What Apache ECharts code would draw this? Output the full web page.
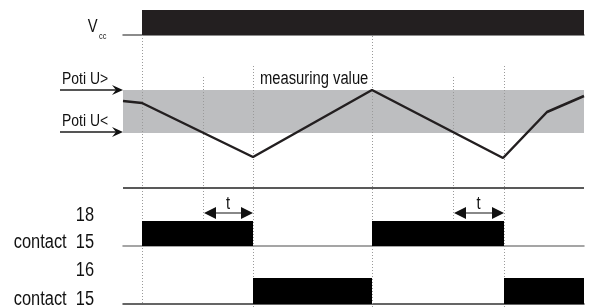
<!DOCTYPE html>
<html>
<head>
<meta charset="utf-8">
<script src="https://cdn.jsdelivr.net/npm/echarts@6/dist/echarts.min.js"></script>
<style>
html,body{margin:0;padding:0;background:#fff;}
#chart{width:589px;height:308px;}
</style>
</head>
<body>
<div id="chart"></div>
<script>
// ---- data (time units along the shared time axis) ----
const timeMax = 461;
const vccOn = [[19, 461]];
const analogTime = [0, 19, 130, 249, 380, 424, 461];
const analogValue = [59, 57, 3, 70, 2, 48, 64];
const potiLevels = [27, 70];              // U< , U>
const potiLabels = ['Poti U<', 'Poti U>'];
const contact18On = [[19, 130], [249, 381]];
const contact16On = [[130, 249], [381, 461]];
const guideTimes = [19, 80, 130, 249, 330, 381];
const delayWindows = [[80, 130], [330, 381]];
const rowLabels = ['18', 'contact  15', '16', 'contact  15'];

// ---- layout / styles ----
const FONT = "'Liberation Sans',Arial,sans-serif";
const NARROW = 0.82;
const L = 123, W = 461;
// vertical extents of guides in overlay pixel-rows (top, bottom)
const guideExtents = [[35, 304], [77, 219], [66, 308], [30, 308], [77, 219], [66, 308]];

const chart = echarts.init(document.getElementById('chart'), null, {renderer: 'canvas'});

function rectSeries(gridIdx, data, color) {
  return {
    type: 'custom', xAxisIndex: gridIdx, yAxisIndex: gridIdx, silent: true,
    data: data, encode: {x: [0, 1]},
    renderItem: function (params, api) {
      const s = api.coord([api.value(0), 1]);
      const e = api.coord([api.value(1), 0]);
      return {type: 'rect', shape: {x: s[0], y: s[1], width: e[0] - s[0], height: e[1] - s[1]},
        style: {fill: color}};
    }
  };
}

const grids = [
  {left: L, width: W, top: 10, height: 25},   // Vcc
  {left: L, width: W, top: 60, height: 100},  // analog
  {left: L, width: W, top: 221, height: 25},  // contact 18
  {left: L, width: W, top: 278, height: 26},  // contact 16
  {left: L, width: W, top: 0, height: 308}    // overlay guides
];
const baseAxisColors = ['#666', null, '#888', '#333', null];

const option = {
  animation: false,
  backgroundColor: '#fff',
  grid: grids,
  xAxis: grids.map((g, i) => ({
    gridIndex: i, type: 'value', min: 0, max: timeMax,
    axisLine: {show: !!baseAxisColors[i], onZero: false, lineStyle: {color: baseAxisColors[i] || '#000', width: 1.5}},
    axisTick: {show: false}, axisLabel: {show: false}, splitLine: {show: false}
  })),
  yAxis: grids.map((g, i) => ({
    gridIndex: i, type: 'value',
    min: 0,
    max: i === 1 ? 100 : (i === 4 ? 308 : 1),
    inverse: i === 4,
    show: false
  })),
  series: [
    // guides (dotted)
    {
      type: 'custom', xAxisIndex: 4, yAxisIndex: 4, silent: true, z: 1,
      data: guideTimes.map((t, i) => [t, guideExtents[i][0], guideExtents[i][1]]),
      encode: {x: 0, y: [1, 2]},
      renderItem: function (params, api) {
        const a = api.coord([api.value(0), api.value(1)]);
        const b = api.coord([api.value(0), api.value(2)]);
        return {type: 'line', shape: {x1: Math.round(a[0]) + 0.5, y1: a[1], x2: Math.round(b[0]) + 0.5, y2: b[1]},
          style: {stroke: '#9a9a9a', lineWidth: 1, lineDash: [1, 2]}};
      }
    },
    // separator line
    {
      type: 'custom', xAxisIndex: 4, yAxisIndex: 4, silent: true, z: 3,
      data: [[0, timeMax, 188]], encode: {x: [0, 1], y: 2},
      renderItem: function (params, api) {
        const a = api.coord([api.value(0), api.value(2)]);
        const b = api.coord([api.value(1), api.value(2)]);
        return {type: 'line', shape: {x1: a[0], y1: a[1], x2: b[0], y2: b[1]},
          style: {stroke: '#222', lineWidth: 1.5}};
      }
    },
    Object.assign(rectSeries(0, vccOn, '#231f20'), {z: 4}),
    {
      type: 'line', xAxisIndex: 1, yAxisIndex: 1, silent: true, z: 5,
      data: analogTime.map((t, i) => [t, analogValue[i]]),
      showSymbol: false, symbol: 'none',
      lineStyle: {color: '#231f20', width: 2.5},
      markArea: {
        silent: true,
        itemStyle: {color: '#bdbec0'},
        data: [[{xAxis: 0, yAxis: potiLevels[0]}, {xAxis: timeMax, yAxis: potiLevels[1]}]]
      }
    },
    Object.assign(rectSeries(2, contact18On, '#000'), {z: 4}),
    Object.assign(rectSeries(3, contact16On, '#000'), {z: 4})
  ]
};
chart.setOption(option);

// ---- annotations placed through the scales ----
function px(grid, v) { return chart.convertToPixel({gridIndex: grid}, v); }
const gfx = [];
function text(x, y, t, size, align) {
  gfx.push({type: 'text', x: x, y: y, z: 100, silent: true, scaleX: NARROW, scaleY: 1,
    style: {text: t, fontFamily: FONT, fontSize: size, fill: '#111', align: align || 'left', verticalAlign: 'middle'}});
}
// Vcc label
text(97.5, 27, 'V', 18, 'right');
text(99, 37, 'cc', 9, 'left');
// Poti arrows
potiLevels.forEach((lv, i) => {
  const p = px(1, [0, lv]);
  const y = Math.round(p[1]) - (i === 1 ? 0 : 1);
  const tip = p[0];
  gfx.push({type: 'line', z: 100, silent: true, shape: {x1: 60, y1: y, x2: tip - 6, y2: y}, style: {stroke: '#555', lineWidth: 2}});
  gfx.push({type: 'polygon', z: 100, silent: true, shape: {points: [[tip, y], [tip - 11, y - 5], [tip - 7, y], [tip - 11, y + 5]]}, style: {fill: '#111'}});
  text(62, y - 11, potiLabels[i], 17, 'left');
});
// measuring value
text(260, 79, 'measuring value', 18, 'left');
// t arrows
delayWindows.forEach(w => {
  const a = px(2, [w[0], 1])[0], b = px(2, [w[1], 1])[0];
  const y = 213;
  gfx.push({type: 'line', z: 100, silent: true, shape: {x1: a + 10, y1: y, x2: b - 10, y2: y}, style: {stroke: '#888', lineWidth: 2}});
  gfx.push({type: 'polygon', z: 100, silent: true, shape: {points: [[a + 1, y], [a + 13, y - 6], [a + 13, y + 6]]}, style: {fill: '#111'}});
  gfx.push({type: 'polygon', z: 100, silent: true, shape: {points: [[b, y], [b - 12, y - 6], [b - 12, y + 6]]}, style: {fill: '#111'}});
  text((a + b) / 2, y - 9, 't', 18, 'center');
});
// row labels
const rowY = [215, 242, 270, 299];
rowLabels.forEach((t, i) => text(94, rowY[i], t, 20, 'right'));
chart.setOption({graphic: gfx});
</script>
</body>
</html>
